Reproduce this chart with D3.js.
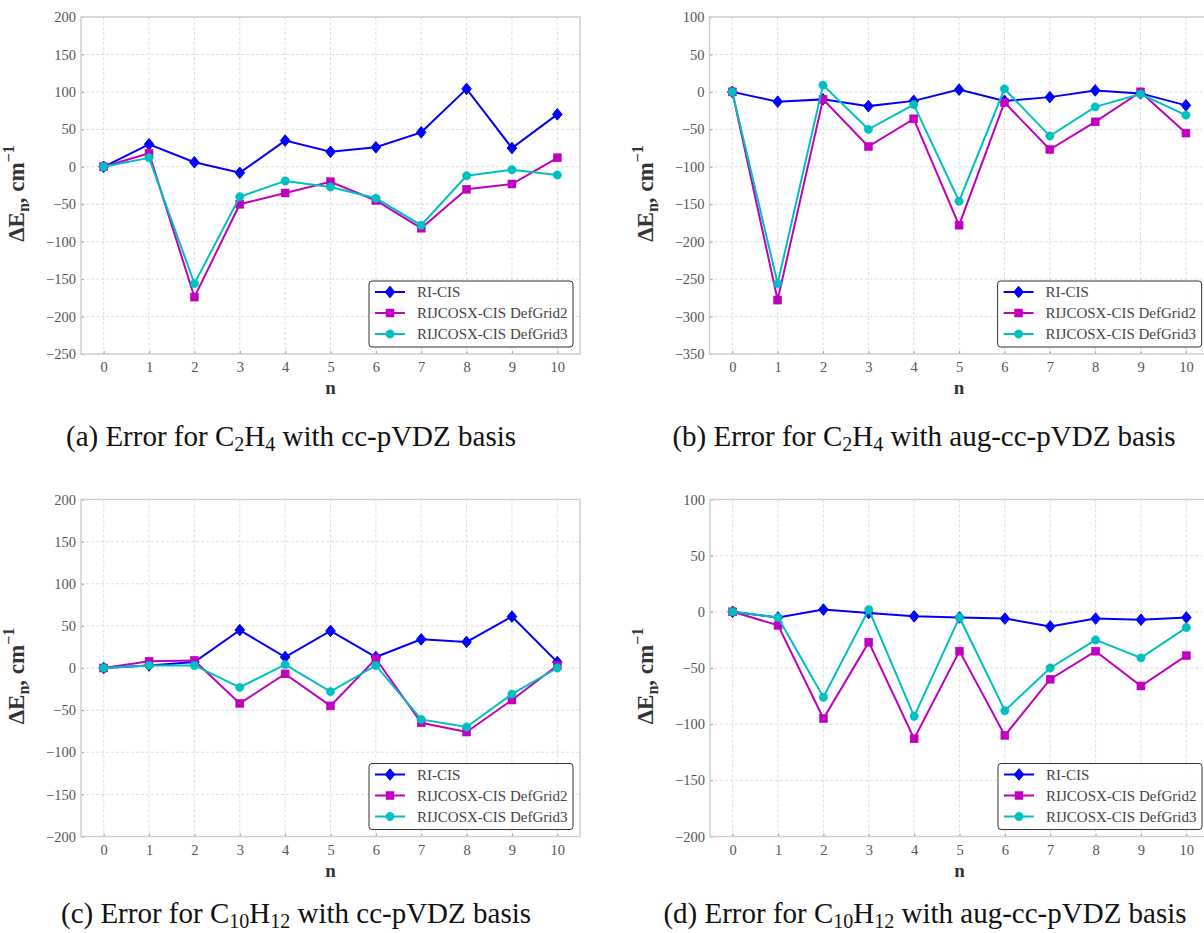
<!DOCTYPE html>
<html>
<head>
<meta charset="utf-8">
<script src="https://cdn.jsdelivr.net/npm/d3@7"></script>
<style>
  body { margin: 0; background: #fff; }
  svg { display: block; }
  text { font-family: "Liberation Serif", "DejaVu Serif", serif; }
</style>
</head>
<body>
<div id="chart"></div>
<script>
// n index shared by every panel
const nValues = [0, 1, 2, 3, 4, 5, 6, 7, 8, 9, 10];
const seriesNames = ["RI-CIS", "RIJCOSX-CIS DefGrid2", "RIJCOSX-CIS DefGrid3"];

// (a) C2H4 cc-pVDZ
const aRI  = [0, 30, 6, -8, 35, 20, 26, 46, 104, 25, 70];
const aDG2 = [0, 18, -174, -50, -35, -20, -45, -82, -30, -23, 12];
const aDG3 = [0, 12, -156, -40, -19, -27, -42, -78, -12, -4, -11];

// (b) C2H4 aug-cc-pVDZ
const bRI  = [0, -13, -10, -19, -12, 3, -12, -7, 2, -2, -18];
const bDG2 = [0, -278, -10, -73, -36, -178, -14, -77, -40, 0, -55];
const bDG3 = [0, -256, 9, -50, -17, -146, 4, -59, -20, -3, -31];

// (c) C10H12 cc-pVDZ
const cRI  = [0, 3, 7, 45, 13, 44, 13, 34, 31, 61, 7];
const cDG2 = [0, 8, 9, -42, -7, -45, 11, -65, -76, -38, 3];
const cDG3 = [0, 3, 3, -23, 4, -28, 3, -61, -70, -31, 0];

// (d) C10H12 aug-cc-pVDZ
const dRI  = [0, -5, 2, -1, -4, -5, -6, -13, -6, -7, -5];
const dDG2 = [0, -12, -95, -27, -113, -35, -110, -60, -35, -66, -39];
const dDG3 = [0, -5, -76, 2, -93, -5, -88, -50, -25, -41, -14];

const yDomainA = [-250, 200];
const yDomainB = [-350, 100];
const yDomainC = [-200, 200];
const yDomainD = [-200, 100];

const captions = [
  { lab: "(a)", mol: [["C", ""], ["2", "sub"], ["H", ""], ["4", "sub"]], basis: "cc-pVDZ" },
  { lab: "(b)", mol: [["C", ""], ["2", "sub"], ["H", ""], ["4", "sub"]], basis: "aug-cc-pVDZ" },
  { lab: "(c)", mol: [["C", ""], ["10", "sub"], ["H", ""], ["12", "sub"]], basis: "cc-pVDZ" },
  { lab: "(d)", mol: [["C", ""], ["10", "sub"], ["H", ""], ["12", "sub"]], basis: "aug-cc-pVDZ" }
];

const colors = ["#0000ff", "#bf00bf", "#00bfbf"];
const markers = ["diamond", "square", "circle"];

const W = 1204, H = 933;
const svg = d3.select("#chart").append("svg").attr("width", W).attr("height", H);

const panels = [
  { left: 81, top: 17, yDomain: yDomainA, data: [aRI, aDG2, aDG3], cap: captions[0], capX: 291, capY: 446 },
  { left: 709.6, top: 17, yDomain: yDomainB, data: [bRI, bDG2, bDG3], cap: captions[1], capX: 924, capY: 446 },
  { left: 81, top: 499.5, yDomain: yDomainC, data: [cRI, cDG2, cDG3], cap: captions[2], capX: 296, capY: 923 },
  { left: 710, top: 499.5, yDomain: yDomainD, data: [dRI, dDG2, dDG3], cap: captions[3], capX: 925, capY: 923 }
];
const pw = 499, ph = 337;

function drawMarker(sel, type, color, s) {
  if (type === "diamond") {
    sel.append("path").attr("d", `M0,${-s * 1.45}L${s * 1.2},0L0,${s * 1.45}L${-s * 1.2},0Z`)
      .attr("fill", color).attr("stroke", color).attr("stroke-width", 1);
  } else if (type === "square") {
    sel.append("rect").attr("x", -s).attr("y", -s).attr("width", 2 * s).attr("height", 2 * s)
      .attr("fill", color).attr("stroke", color).attr("stroke-width", 0.5);
  } else {
    sel.append("circle").attr("r", s * 1.05).attr("fill", color).attr("stroke", color).attr("stroke-width", 0.5);
  }
}

panels.forEach(p => {
  const g = svg.append("g").attr("transform", `translate(${p.left},${p.top})`);
  const x = d3.scaleLinear().domain([-0.5, 10.5]).range([0, pw]);
  const y = d3.scaleLinear().domain(p.yDomain).range([ph, 0]);
  const yTicks = d3.range(p.yDomain[0], p.yDomain[1] + 1, 50);

  // grid
  g.append("g").selectAll("line.gx").data(nValues).join("line")
    .attr("x1", d => x(d)).attr("x2", d => x(d)).attr("y1", 0).attr("y2", ph)
    .attr("stroke", "#d6d6d6").attr("stroke-width", 0.8).attr("stroke-dasharray", "3,2");
  g.append("g").selectAll("line.gy").data(yTicks).join("line")
    .attr("x1", 0).attr("x2", pw).attr("y1", d => y(d)).attr("y2", d => y(d))
    .attr("stroke", "#d6d6d6").attr("stroke-width", 0.8).attr("stroke-dasharray", "3,2");

  // axes
  const xAxis = g.append("g").attr("transform", `translate(0,${ph})`)
    .call(d3.axisBottom(x).tickValues(nValues).tickSize(-3).tickPadding(8));
  const yAxis = g.append("g")
    .call(d3.axisLeft(y).tickValues(yTicks).tickSize(-3).tickPadding(5));
  [xAxis, yAxis].forEach(a => {
    a.select(".domain").remove();
    a.selectAll(".tick line").attr("stroke", "#999");
    a.selectAll(".tick text").attr("fill", "#555").attr("font-size", 14.5)
      .style("font-family", '"Liberation Serif", serif');
  });

  // frame
  g.append("rect").attr("width", pw).attr("height", ph)
    .attr("fill", "none").attr("stroke", "#cfcfcf").attr("stroke-width", 1.5);

  // lines + markers
  const line = d3.line().x((d, i) => x(nValues[i])).y(d => y(d));
  p.data.forEach((vals, si) => {
    g.append("path").datum(vals).attr("d", line)
      .attr("fill", "none").attr("stroke", colors[si]).attr("stroke-width", 2);
    vals.forEach((v, i) => {
      const mg = g.append("g").attr("transform", `translate(${x(nValues[i])},${y(v)})`);
      drawMarker(mg, markers[si], colors[si], 4);
    });
  });

  // legend
  const lw = 204, lh = 66;
  const lg = g.append("g").attr("transform", `translate(${pw - 7 - lw},${ph - 7 - lh})`);
  lg.append("rect").attr("width", lw).attr("height", lh).attr("rx", 3)
    .attr("fill", "#fff").attr("fill-opacity", 0.85).attr("stroke", "#333").attr("stroke-width", 1);
  seriesNames.forEach((name, si) => {
    const ry = 11 + si * 21;
    lg.append("line").attr("x1", 6).attr("x2", 36).attr("y1", ry).attr("y2", ry)
      .attr("stroke", colors[si]).attr("stroke-width", 2);
    const mg = lg.append("g").attr("transform", `translate(21,${ry})`);
    drawMarker(mg, markers[si], colors[si], 4);
    lg.append("text").attr("x", 48).attr("y", ry + 5).attr("font-size", 15).attr("fill", "#444").text(name);
  });

  // axis labels
  g.append("text").attr("x", pw / 2).attr("y", ph + 40).attr("text-anchor", "middle")
    .attr("font-size", 19).attr("font-weight", "bold").attr("fill", "#333").text("n");
  const yl = g.append("text").attr("transform", `translate(-57,${ph / 2 + 8}) rotate(-90)`)
    .attr("text-anchor", "middle").attr("font-size", 23).attr("font-weight", "bold").attr("fill", "#333");
  yl.append("tspan").text("ΔE");
  yl.append("tspan").attr("font-size", 16).attr("dy", 5).text("n");
  yl.append("tspan").attr("dy", -5).text(", cm");
  yl.append("tspan").attr("font-size", 16).attr("dy", -10).text("−1");

  // caption
  const ct = svg.append("text").attr("x", p.capX).attr("y", p.capY).attr("text-anchor", "middle")
    .attr("font-size", 29).attr("fill", "#111");
  ct.append("tspan").text(`${p.cap.lab} Error for `);
  let shifted = 0;
  p.cap.mol.forEach(([t, kind]) => {
    if (kind === "sub") {
      ct.append("tspan").attr("font-size", 20).attr("dy", 5 - shifted).text(t);
      shifted = 5;
    } else {
      ct.append("tspan").attr("dy", -shifted).text(t);
      shifted = 0;
    }
  });
  ct.append("tspan").attr("dy", -shifted).text(` with ${p.cap.basis} basis`);
});
</script>
</body>
</html>
